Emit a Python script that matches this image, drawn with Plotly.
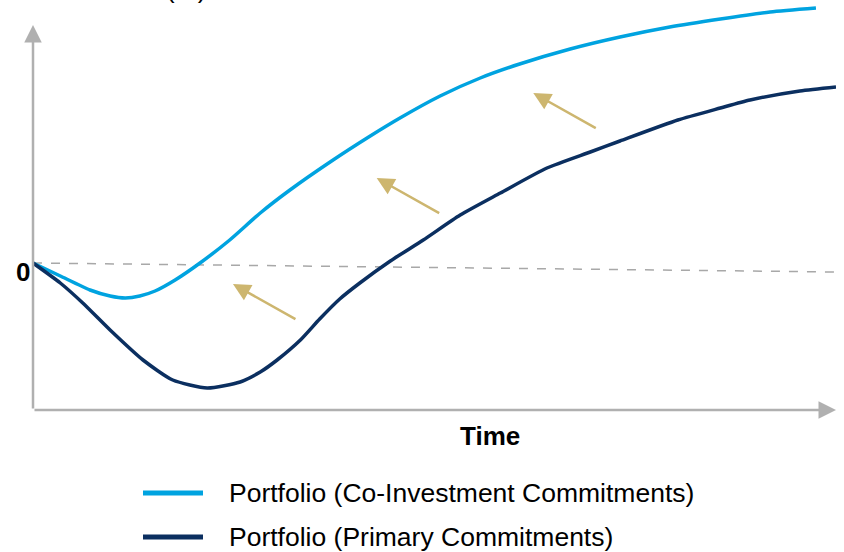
"""Co-investment vs primary commitment J-curve, redrawn with plotly."""

import plotly.graph_objects as go

# time axis (0 = start, 100 = right end of the axis)
co_x = [0, 3.4, 7.1, 9.6, 11.5, 13.3, 15.2, 17.7, 20.8, 24.5, 28.3, 32.0, 37.0,
        42.0, 45.7, 50.7, 55.7, 60.6, 66.9, 73.1, 79.3, 85.6, 91.8, 97.5]
co_y = [0, -1.3, -2.7, -3.3, -3.5, -3.3, -2.8, -1.7, 0.0, 2.3, 5.0, 7.3, 10.1,
        12.7, 14.5, 16.7, 18.5, 19.9, 21.4, 22.6, 23.6, 24.4, 25.1, 25.5]

pr_x = [0, 3.4, 6.2, 9.6, 13.7, 17.4, 21.7, 25.8, 28.3, 30.4, 33.3, 35.7, 38.2,
        40.7, 44.5, 48.6, 53.2, 58.2, 64.0, 69.4, 73.1, 80.3, 85.6, 89.3, 95.5, 100]
pr_y = [0, -2.0, -4.0, -6.7, -9.7, -11.7, -12.5, -11.9, -10.9, -9.7, -7.7, -5.6,
        -3.6, -2.0, 0.2, 2.3, 4.8, 7.0, 9.5, 11.1, 12.2, 14.3, 15.5, 16.3, 17.2, 17.6]

zero_x = [0, 100]
zero_y = [0, -0.9]

# gold arrows: tip position (time, value) showing the shift of the curve
shift_tip_x = [24.9, 42.8, 62.3]
shift_tip_y = [-2.1, 8.5, 17.0]

names = ["Portfolio (Co-Investment Commitments)", "Portfolio (Primary Commitments)"]
LIGHT = "#00A3E0"
DARK = "#0B2F60"
GOLD = "#CDB66F"
GREY = "#B0B0B0"
FONT = "Liberation Sans, Arial, sans-serif"

Y_MIN, Y_MAX = -14.7, 26.3   # plot area spans the full top of the figure
Y_TIP = 23.8                 # where the y-axis arrow ends

L, R, T, B = 33, 8, 0, 142
PW, PH = 844 - L - R, 552 - T - B


def px(x):
    return (x - L) / PW


def py(y):
    return (552 - B - y) / PH


fig = go.Figure()
fig.add_trace(go.Scatter(x=zero_x, y=zero_y, mode="lines",
                         line=dict(color="#A8A8A8", width=1.5, dash="dash"),
                         hoverinfo="skip"))
fig.add_trace(go.Scatter(x=co_x, y=co_y, mode="lines", name=names[0],
                         line=dict(color=LIGHT, width=3.5, shape="spline", smoothing=0.6)))
fig.add_trace(go.Scatter(x=pr_x, y=pr_y, mode="lines", name=names[1],
                         line=dict(color=DARK, width=3.5, shape="spline", smoothing=0.6)))

ann = []
# axes with arrowheads
ann.append(dict(x=0, y=Y_TIP, ax=0, ay=Y_MIN, xref="x", yref="y", axref="x", ayref="y",
                showarrow=True, arrowhead=2, arrowsize=1.4, arrowwidth=2.5,
                arrowcolor=GREY, text=""))
ann.append(dict(x=100, y=Y_MIN, ax=0, ay=Y_MIN, xref="x", yref="y", axref="x", ayref="y",
                showarrow=True, arrowhead=2, arrowsize=1.4, arrowwidth=2.5,
                arrowcolor=GREY, text=""))
for tx, ty in zip(shift_tip_x, shift_tip_y):
    ann.append(dict(x=tx, y=ty, ax=64, ay=36, xref="x", yref="y",
                    showarrow=True, arrowhead=2, arrowsize=1.4, arrowwidth=2.5,
                    arrowcolor=GOLD, text=""))

ann.append(dict(x=px(32), y=py(272), xref="paper", yref="paper", text="<b>0</b>",
                showarrow=False, xanchor="right", yanchor="middle",
                font=dict(size=26, color="black", family=FONT)))
ann.append(dict(x=px(490), y=py(436), xref="paper", yref="paper", text="<b>Time</b>",
                showarrow=False, xanchor="center", yanchor="middle",
                font=dict(size=26, color="black", family=FONT)))
# y-axis title, mostly cropped off the top of the slide
ann.append(dict(x=px(208), y=py(-11), xref="paper", yref="paper", text="Net Return (%)",
                showarrow=False, xanchor="right", yanchor="middle",
                font=dict(size=26, color="black", family=FONT)))

# hand-made legend below the chart
shapes = []
for i, (name, color) in enumerate(zip(names, [LIGHT, DARK])):
    yp = py(493 + 44 * i)
    shapes.append(dict(type="line", xref="paper", yref="paper",
                       x0=px(143), x1=px(203), y0=yp, y1=yp,
                       line=dict(color=color, width=5)))
    ann.append(dict(x=px(227), y=yp, xref="paper", yref="paper", text=name,
                    showarrow=False, xanchor="left", yanchor="middle",
                    font=dict(size=26.5, color="black", family=FONT)))

fig.update_layout(
    width=844, height=552, autosize=False,
    margin=dict(l=L, r=R, t=T, b=B),
    paper_bgcolor="white", plot_bgcolor="white",
    showlegend=False,
    xaxis=dict(range=[0, 100], visible=False),
    yaxis=dict(range=[Y_MIN, Y_MAX], visible=False),
    annotations=ann, shapes=shapes,
)

# the page's default body margin would push the 844x552 figure off the window
fig.write_html("out.html", config={"displayModeBar": False},
               post_script="document.body.style.margin='0';")
